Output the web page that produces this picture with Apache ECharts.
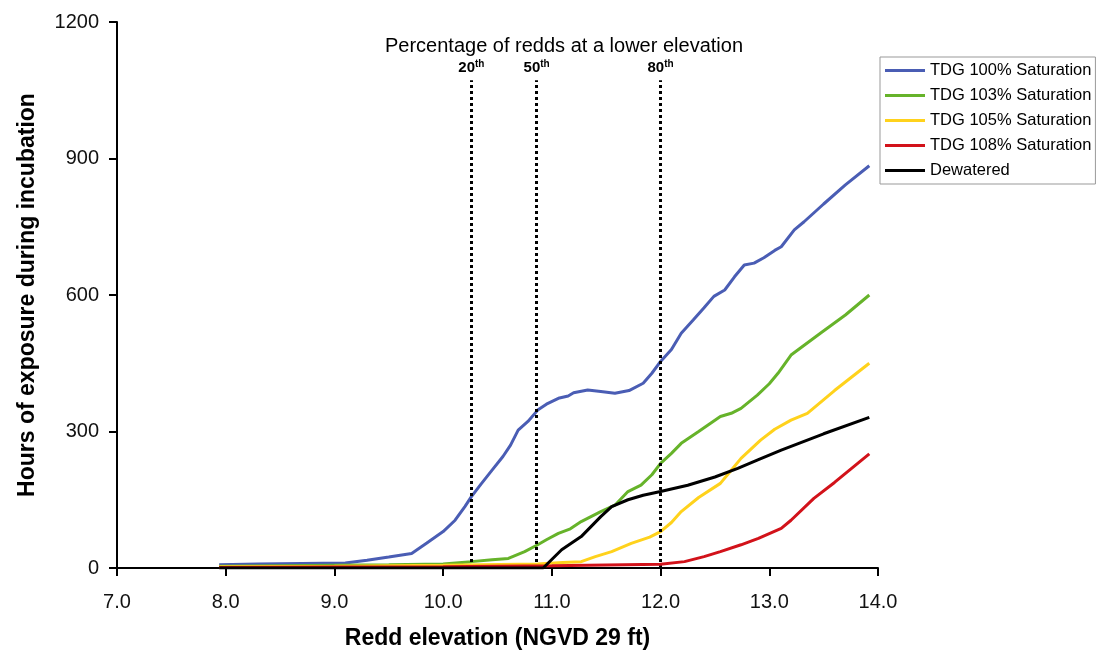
<!DOCTYPE html>
<html>
<head>
<meta charset="utf-8">
<script src="https://cdn.jsdelivr.net/npm/echarts@6/dist/echarts.min.js"></script>
<style>
html, body { margin: 0; padding: 0; background: #fff; }
#container { width: 1103px; height: 655px; }
</style>
</head>
<body>
<div id="container"></div>
<script>
var dom = document.getElementById("container");
var myChart = echarts.init(dom);
var font = "'Liberation Sans', Arial, sans-serif";

// series names
var seriesNames = ['TDG 100% Saturation', 'TDG 103% Saturation', 'TDG 105% Saturation', 'TDG 108% Saturation', 'Dewatered'];
var seriesColors = ['#4a5db4', '#66b32a', '#ffd21c', '#d2121a', '#000000'];

// [elevation, hours]
var tdg100 = [[7.94,7],[8.3,9],[8.7,10],[9.1,11],[9.3,17],[9.5,24],[9.71,32],[9.85,55],[10.0,80],[10.11,105],[10.2,135],[10.26,157],[10.35,185],[10.45,215],[10.55,245],[10.62,270],[10.69,303],[10.78,322],[10.87,347],[10.95,360],[11.06,373],[11.15,378],[11.2,385],[11.33,391],[11.45,388],[11.58,384],[11.71,390],[11.84,406],[11.92,428],[12.0,454],[12.1,480],[12.19,516],[12.3,545],[12.4,572],[12.49,597],[12.59,611],[12.68,640],[12.77,666],[12.86,670],[12.95,682],[13.05,698],[13.11,706],[13.23,743],[13.32,761],[13.5,800],[13.7,842],[13.92,884]];
var tdg103 = [[7.94,4],[8.5,5],[9.0,6],[9.5,7],[10.0,9],[10.26,14],[10.45,18],[10.6,21],[10.75,36],[10.87,51],[10.95,62],[11.06,76],[11.17,86],[11.27,102],[11.36,113],[11.45,124],[11.58,138],[11.70,168],[11.82,182],[11.92,205],[12.0,230],[12.1,252],[12.19,274],[12.35,300],[12.55,333],[12.65,340],[12.74,351],[12.89,380],[13.0,405],[13.08,428],[13.20,468],[13.47,516],[13.7,556],[13.92,600]];
var tdg105 = [[7.94,3],[9.0,4],[10.0,6],[10.87,9],[11.1,12],[11.27,14],[11.4,25],[11.55,36],[11.73,54],[11.9,68],[12.0,80],[12.1,100],[12.19,124],[12.35,155],[12.55,186],[12.65,215],[12.74,241],[12.92,281],[13.05,305],[13.20,325],[13.35,340],[13.6,390],[13.92,450]];
var tdg108 = [[7.94,1],[9.0,2],[10.0,3],[11.0,5],[12.0,8],[12.22,14],[12.4,25],[12.55,36],[12.74,51],[12.9,65],[13.11,87],[13.20,105],[13.41,153],[13.6,188],[13.92,251]];
var dewatered = [[7.94,0],[10.92,0],[11.09,40],[11.27,69],[11.45,113],[11.55,135],[11.7,150],[11.84,160],[12.0,168],[12.25,182],[12.5,200],[12.71,219],[12.9,238],[13.11,259],[13.5,295],[13.92,331]];

// percentile marker lines
var percentileX = [10.26, 10.86, 12.0];
var percentileLabels = ['20', '50', '80'];
var markerTop = 1072;

var allData = [tdg100, tdg103, tdg105, tdg108, dewatered];

var markData = [];
for (var i = 0; i < percentileX.length; i++) {
    markData.push([
        { coord: [percentileX[i], 0] },
        { coord: [percentileX[i], markerTop], label: { formatter: '{n|' + percentileLabels[i] + '}{s|th}' } }
    ]);
}

var series = [];
for (var k = 0; k < seriesNames.length; k++) {
    series.push({
        name: seriesNames[k],
        type: 'line',
        data: allData[k],
        showSymbol: false,
        lineStyle: { width: 3, color: seriesColors[k] },
        itemStyle: { color: seriesColors[k] },
        z: 2 + k
    });
}
// dotted percentile lines
series.push({
    name: 'pct',
    type: 'line',
    data: [],
    markLine: {
        silent: true,
        symbol: 'none',
        animation: false,
        lineStyle: { color: '#000', width: 3, type: [3, 3] },
        label: {
            show: true,
            position: 'end',
            distance: 3,
            rich: {
                n: { fontFamily: font, fontWeight: 'bold', fontSize: 15, color: '#000' },
                s: { fontFamily: font, fontWeight: 'bold', fontSize: 10, color: '#000', padding: [0, 0, 8, 0] }
            }
        },
        data: markData
    }
});

option = {
    animation: false,
    backgroundColor: '#fff',
    textStyle: { fontFamily: font },
    grid: { left: 117, right: 225, top: 22, bottom: 87 },
    graphic: [{
        type: 'text',
        x: 564,
        y: 46,
        style: {
            text: 'Percentage of redds at a lower elevation',
            font: '20px ' + font, fill: '#000',
            textAlign: 'center', textVerticalAlign: 'middle'
        }
    }],
    legend: {
        orient: 'vertical',
        left: 880,
        top: 57,
        data: seriesNames,
        icon: 'rect',
        itemWidth: 40,
        itemHeight: 3,
        itemGap: 8,
        padding: [5, 4, 5, 5],
        borderColor: '#999',
        borderWidth: 1,
        textStyle: { fontFamily: font, fontSize: 16.5, color: '#000', lineHeight: 17 }
    },
    xAxis: {
        type: 'value',
        min: 7,
        max: 14,
        interval: 1,
        name: 'Redd elevation (NGVD 29 ft)',
        nameLocation: 'middle',
        nameGap: 59,
        nameTextStyle: { fontFamily: font, fontSize: 23, fontWeight: 'bold', color: '#000' },
        axisLine: { onZero: false, lineStyle: { color: '#000', width: 2 } },
        axisTick: { length: 8, lineStyle: { color: '#000', width: 2 } },
        axisLabel: {
            fontFamily: font, fontSize: 20, color: '#111', margin: 24,
            formatter: function (v) { return v.toFixed(1); }
        },
        splitLine: { show: false }
    },
    yAxis: {
        type: 'value',
        min: 0,
        max: 1200,
        interval: 300,
        name: 'Hours of exposure during incubation',
        nameLocation: 'middle',
        nameGap: 78,
        nameTextStyle: { fontFamily: font, fontSize: 23, fontWeight: 'bold', color: '#000' },
        axisLine: { show: true, lineStyle: { color: '#000', width: 2 } },
        axisTick: { show: true, length: 8, lineStyle: { color: '#000', width: 2 } },
        axisLabel: {
            fontFamily: font, fontSize: 20, color: '#111', margin: 18,
            formatter: function (v) { return String(v); }
        },
        splitLine: { show: false }
    },
    series: series
};
if (option && typeof option === "object") {
    myChart.setOption(option, true);
}
</script>
</body>
</html>
